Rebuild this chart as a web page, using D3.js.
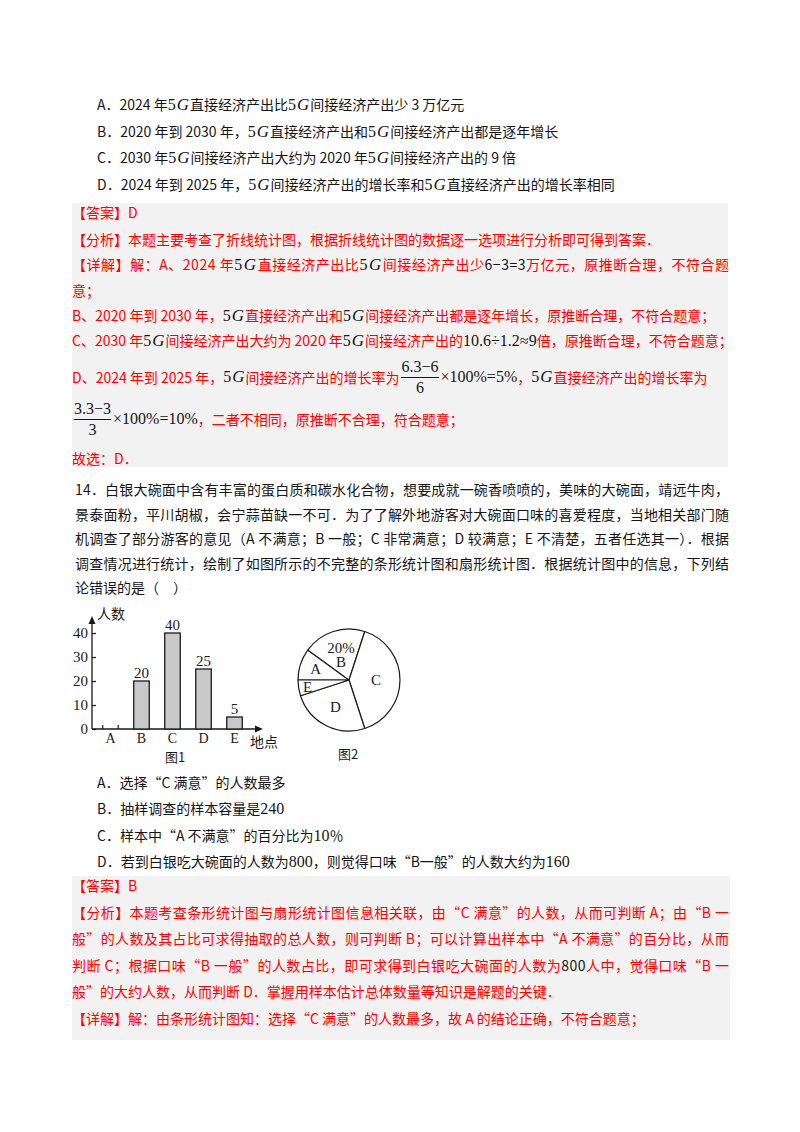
<!DOCTYPE html>
<html lang="zh-CN">
<head>
<meta charset="utf-8">
<script src="https://cdn.jsdelivr.net/npm/d3@7"></script>
<style>
    body { margin: 0; background: #fff; }
    #page { position: relative; width: 800px; height: 1132px; overflow: hidden;
        font-family: "Noto Sans CJK SC", sans-serif; font-size: 14px; color: #151515; }
    .box { position: absolute; background: #f2f2f2; }
    .line { position: absolute; white-space: nowrap; line-height: 20px; height: 20px; }
    .fline { position: absolute; white-space: pre; height: 44px; display: flex; align-items: center; }
    .red { color: #f00; }
    .m { font-family: "Liberation Serif", serif; color: #151515; font-size: 16px; }
    .m i { font-size: 17px; padding: 0 1px 0 1px; }
    .k { color: #151515; }
    .frac { display: inline-flex; flex-direction: column; align-items: center; font-family: "Liberation Serif", serif;
        color: #151515; font-size: 16px; line-height: 20px; margin: 0 2px; }
    .frac span + span { border-top: 1.2px solid #151515; align-self: stretch; text-align: center; }
    svg { position: absolute; left: 0; top: 0; }
</style>
</head>
<body>
<div id="page"></div>
<script>
// bar chart (图1) and pie chart (图2)
const categories = ['A', 'B', 'C', 'D', 'E'];
const counts = [0, 20, 40, 25, 5];
const yTicks = [0, 10, 20, 30, 40];
const pieShares = [10, 20, 40, 25, 5];
const pieNotes = ['', '20%', '', '', ''];

// page text; {..} = math, [a|b] = fraction, «..» = black number
const topOptions = [
    'A．2024 年{5G}直接经济产出比{5G}间接经济产出少 3 万亿元',
    'B．2020 年到 2030 年，{5G}直接经济产出和{5G}间接经济产出都是逐年增长',
    'C．2030 年{5G}间接经济产出大约为 2020 年{5G}间接经济产出的 9 倍',
    'D．2024 年到 2025 年，{5G}间接经济产出的增长率和{5G}直接经济产出的增长率相同'
];
const answer13 = [
    '【答案】D',
    '【分析】本题主要考查了折线统计图，根据折线统计图的数据逐一选项进行分析即可得到答案．',
    '【详解】解：A、2024 年{5G}直接经济产出比{5G}间接经济产出少«6−3=3»万亿元，原推断合理，不符合题',
    '意；',
    'B、2020 年到 2030 年，{5G}直接经济产出和{5G}间接经济产出都是逐年增长，原推断合理，不符合题意；',
    'C、2030 年{5G}间接经济产出大约为 2020 年{5G}间接经济产出的{10.6÷1.2≈9}倍，原推断合理，不符合题意；',
    'D、2024 年到 2025 年，{5G}间接经济产出的增长率为[6.3−6|6]{×100%=5%}，{5G}直接经济产出的增长率为',
    '[3.3−3|3]{×100%=10%}，二者不相同，原推断不合理，符合题意；',
    '故选：D．'
];
const question14 = [
    '14．白银大碗面中含有丰富的蛋白质和碳水化合物，想要成就一碗香喷喷的，美味的大碗面，靖远牛肉，',
    '景泰面粉，平川胡椒，会宁蒜苗缺一不可．为了了解外地游客对大碗面口味的喜爱程度，当地相关部门随',
    '机调查了部分游客的意见（A 不满意；B 一般；C 非常满意；D 较满意；E 不清楚，五者任选其一）．根据',
    '调查情况进行统计，绘制了如图所示的不完整的条形统计图和扇形统计图．根据统计图中的信息，下列结',
    '论错误的是（　）'
];
const options14 = [
    'A．选择“C 满意”的人数最多',
    'B．抽样调查的样本容量是{240}',
    'C．样本中“A 不满意”的百分比为{10}％',
    'D．若到白银吃大碗面的人数为{800}，则觉得口味“B一般”的人数大约为{160}'
];
const answer14 = [
    '【答案】B',
    '【分析】本题考查条形统计图与扇形统计图信息相关联，由“C 满意”的人数，从而可判断 A；由“B 一',
    '般”的人数及其占比可求得抽取的总人数，则可判断 B；可以计算出样本中“A 不满意”的百分比，从而',
    '判断 C；根据口味“B 一般”的人数占比，即可求得到白银吃大碗面的人数为«800»人中，觉得口味“B 一',
    '般”的大约人数，从而判断 D．掌握用样本估计总体数量等知识是解题的关键．',
    '【详解】解：由条形统计图知：选择“C 满意”的人数最多，故 A 的结论正确，不符合题意；'
];

const page = d3.select('#page');
const rightEdge = 729;

// grey answer boxes
[[72, 203, 656, 264], [72, 876, 658, 164]].forEach(b => {
    page.append('div').attr('class', 'box')
        .style('left', b[0] + 'px').style('top', b[1] + 'px')
        .style('width', b[2] + 'px').style('height', b[3] + 'px');
});

function markup(str) {
    return str.split(/(\{[^}]*\}|\[[^\]]*\]|«[^»]*»)/).map(t => {
        if (t.startsWith('{')) {
            let s = t.slice(1, -1).replace(/([A-Za-z])/g, '<i>$1</i>');
            return '<span class="m">' + s + '</span>';
        }
        if (t.startsWith('[')) {
            let p = t.slice(1, -1).split('|');
            return '<span class="frac"><span>' + p[0] + '</span><span>' + p[1] + '</span></span>';
        }
        if (t.startsWith('«')) return '<span class="k">' + t.slice(1, -1) + '</span>';
        return t ? '<span>' + t + '</span>' : '';
    }).join('');
}

function addLines(texts, x, ys, opts) {
    texts.forEach((t, i) => {
        let frac = t.indexOf('[') >= 0;
        let div = page.append('div')
            .attr('class', (frac ? 'fline' : 'line') + (opts.red ? ' red' : ''))
            .style('left', x + 'px')
            .style('top', (ys[i] - (frac ? 22 : 10)) + 'px')
            .html(markup(t));
        if (opts.just.includes(i)) {
            // spread the line out to the right margin
            let node = div.node();
            let w = node.getBoundingClientRect().width;
            let n = node.textContent.length;
            div.style('letter-spacing', ((rightEdge - x - w) / (n - 1)) + 'px');
        }
    });
}

addLines(topOptions, 97, [104, 130.5, 157, 184], { red: false, just: [] });
addLines(answer13, 72, [212, 238.5, 264, 289.5, 314.5, 340, 377, 419, 458], { red: true, just: [2] });
addLines(question14, 75, [489, 513.5, 538, 562.5, 587], { red: false, just: [0, 1, 2, 3] });
addLines(options14, 97, [782, 808, 834.5, 861], { red: false, just: [] });
addLines(answer14, 72, [885, 911.5, 938, 964.5, 991, 1017.5], { red: true, just: [1, 2, 3] });

// charts
const svg = page.append('svg').attr('width', 800).attr('height', 1132);
const ink = '#1a1a1a';
const serif = '"Liberation Serif", serif';
const cjk = '"Noto Sans CJK SC", sans-serif';

const ox = 92, oy = 729;
let y = d3.scaleLinear().domain([0, 40]).range([oy, oy - 96]);
let x = d3.scaleBand().domain(categories).range([95, 250]).paddingInner(0.5).paddingOuter(0.25);

let chart = svg.append('g');
chart.append('g')
    .attr('transform', 'translate(' + ox + ',0)')
    .call(d3.axisLeft(y).tickValues(yTicks).tickSize(-4).tickPadding(4))
    .call(g => g.select('.domain').remove())
    .call(g => g.selectAll('line').attr('stroke', ink).attr('stroke-width', 1.2))
    .call(g => g.selectAll('text').attr('font-family', serif).attr('font-size', 15).attr('fill', ink));
chart.append('g')
    .attr('transform', 'translate(0,' + oy + ')')
    .call(d3.axisBottom(x).tickSize(0).tickPadding(4))
    .call(g => g.select('.domain').remove())
    .call(g => g.selectAll('text').attr('font-family', serif).attr('font-size', 14).attr('fill', ink));

// axis lines with arrows
chart.append('path').attr('d', 'M' + ox + ',' + oy + 'V' + (y(45) + 1) + 'M' + ox + ',' + oy + 'H257')
    .attr('stroke', ink).attr('stroke-width', 1.3).attr('fill', 'none');
chart.append('path').attr('d', 'M' + ox + ',' + (y(45) - 5) + 'l-3.5,8h7z').attr('fill', ink);
chart.append('path').attr('d', 'M263,' + oy + 'l-8,-3.5v7z').attr('fill', ink);

let bars = chart.selectAll('.bar').data(categories.map((c, i) => ({ c: c, v: counts[i] })))
    .enter().append('g').attr('class', 'bar');
bars.filter(d => d.v > 0).append('rect')
    .attr('x', d => x(d.c))
    .attr('y', d => y(d.v))
    .attr('width', x.bandwidth())
    .attr('height', d => y(0) - y(d.v))
    .attr('fill', '#c9c9c9').attr('stroke', ink).attr('stroke-width', 1.3);
bars.filter(d => d.v === 0).append('path')
    .attr('d', d => 'M' + x(d.c) + ',' + oy + 'v-4M' + (x(d.c) + x.bandwidth()) + ',' + oy + 'v-4')
    .attr('stroke', ink).attr('stroke-width', 1.2);
bars.filter(d => d.v > 0).append('text')
    .attr('x', d => x(d.c) + x.bandwidth() / 2)
    .attr('y', d => y(d.v) - 3)
    .attr('text-anchor', 'middle')
    .attr('font-family', serif).attr('font-size', 15).attr('fill', ink)
    .text(d => d.v);

chart.append('text').attr('x', 97).attr('y', 619).attr('font-family', cjk).attr('font-size', 14).attr('fill', ink).text('人数');
chart.append('text').attr('x', 250).attr('y', 747).attr('font-family', cjk).attr('font-size', 14).attr('fill', ink).text('地点');
chart.append('text').attr('x', 175).attr('y', 762).attr('text-anchor', 'middle')
    .attr('font-family', cjk).attr('font-size', 13).attr('fill', ink).text('图1');

// pie
const pcx = 349, pcy = 680, pr = 51;
let pie = d3.pie().sort(null).startAngle(-Math.PI / 2).endAngle(1.5 * Math.PI);
let arc = d3.arc().innerRadius(0).outerRadius(pr);
let labelR = [35, 26, 27, 30, 42];
let pg = svg.append('g').attr('transform', 'translate(' + pcx + ',' + pcy + ')');
let slices = pg.selectAll('.slice').data(pie(pieShares)).enter().append('g').attr('class', 'slice');
slices.append('path').attr('d', arc)
    .attr('fill', '#fff').attr('stroke', ink).attr('stroke-width', 1.2).attr('stroke-linejoin', 'round');
slices.each(function (d, i) {
    let c = d3.arc().innerRadius(labelR[i]).outerRadius(labelR[i]).centroid(d);
    let g = d3.select(this).append('text')
        .attr('text-anchor', 'middle')
        .attr('font-family', serif).attr('font-size', 15).attr('fill', ink);
    if (pieNotes[i]) {
        g.append('tspan').attr('x', c[0]).attr('y', c[1] - 2).text(pieNotes[i]);
        g.append('tspan').attr('x', c[0]).attr('y', c[1] + 12).text(categories[i]);
    } else {
        g.attr('x', c[0]).attr('y', c[1] + 5).text(categories[i]);
    }
});
svg.append('text').attr('x', 348).attr('y', 759).attr('text-anchor', 'middle')
    .attr('font-family', cjk).attr('font-size', 13).attr('fill', ink).text('图2');
</script>
</body>
</html>
